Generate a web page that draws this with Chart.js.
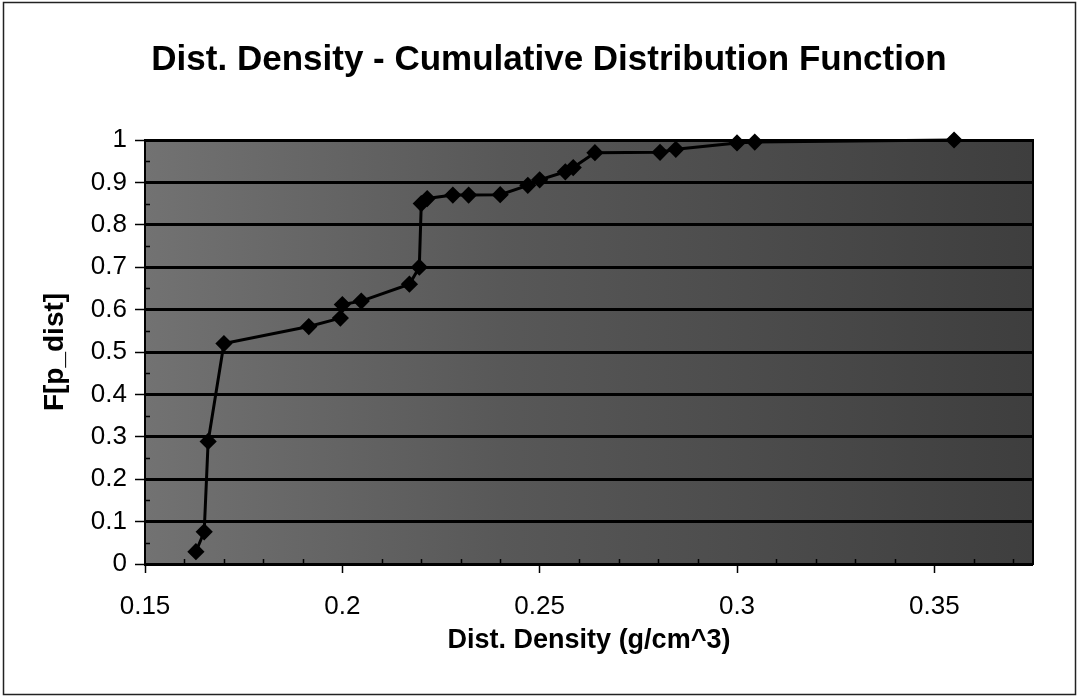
<!DOCTYPE html>
<html>
<head>
<meta charset="utf-8">
<style>
  html, body { margin: 0; padding: 0; background: #ffffff; }
  canvas { display: block; }
</style>
<script src="https://cdn.jsdelivr.net/npm/chart.js@4/dist/chart.umd.min.js"></script>
</head>
<body>
<canvas id="cdf" width="1079" height="698"></canvas>
<script>
// Sample densities (g/cm^3) and their cumulative probabilities
const density = [0.1629, 0.1650, 0.1660, 0.1700, 0.1915, 0.1995, 0.2000, 0.2048, 0.2170, 0.2195,
                 0.2200, 0.2215, 0.2280, 0.2320, 0.2400, 0.2470, 0.2500, 0.2565, 0.2585, 0.2640,
                 0.2805, 0.2845, 0.3000, 0.3045, 0.3550];
const cdf     = [0.029, 0.076, 0.289, 0.520, 0.560, 0.580, 0.612, 0.620, 0.660, 0.700,
                 0.850, 0.862, 0.870, 0.870, 0.871, 0.893, 0.906, 0.925, 0.935, 0.970,
                 0.971, 0.978, 0.993, 0.995, 1.000];

// Axis ticks
const xTicks      = [0.15, 0.2, 0.25, 0.3, 0.35];
const xTickLabels = ['0.15', '0.2', '0.25', '0.3', '0.35'];
const xMinorTicks = [0.16, 0.17, 0.18, 0.19, 0.21, 0.22, 0.23, 0.24, 0.26, 0.27, 0.28, 0.29,
                     0.31, 0.32, 0.33, 0.34, 0.36, 0.37];
const yTicks      = [0, 0.1, 0.2, 0.3, 0.4, 0.5, 0.6, 0.7, 0.8, 0.9, 1];
const yTickLabels = ['0', '0.1', '0.2', '0.3', '0.4', '0.5', '0.6', '0.7', '0.8', '0.9', '1'];
const yMinorTicks = [0.05, 0.15, 0.25, 0.35, 0.45, 0.55, 0.65, 0.75, 0.85, 0.95];

const TITLE = 'Dist. Density - Cumulative Distribution Function';
const FONT = "'Liberation Sans', Arial, Helvetica, sans-serif";
const W = 1079, H = 698;
const AREA = { left: 145, right: 1033, top: 140, bottom: 564 };

// Grey plot-area fill, minor tick marks, chart title and the outer frame
const decor = {
  id: 'decor',
  beforeDraw(chart) {
    const { ctx, chartArea: a } = chart;
    ctx.save();
    const g = ctx.createLinearGradient(a.left, 0, a.right, 0);
    g.addColorStop(0, '#727272');
    g.addColorStop(0.4, '#585858');
    g.addColorStop(1, '#3e3e3e');
    ctx.fillStyle = g;
    ctx.fillRect(a.left, a.top, a.right - a.left, a.bottom - a.top);
    ctx.restore();
  },
  afterDraw(chart) {
    const { ctx, chartArea: a, scales } = chart;
    ctx.save();
    ctx.strokeStyle = '#000';
    ctx.lineWidth = 1.5;
    ctx.beginPath();
    xMinorTicks.forEach(v => {
      const x = Math.round(scales.x.getPixelForValue(v)) + 0.5;
      ctx.moveTo(x, a.bottom);
      ctx.lineTo(x, a.bottom - 5);
    });
    yMinorTicks.forEach(v => {
      const y = Math.round(scales.y.getPixelForValue(v)) + 0.5;
      ctx.moveTo(a.left, y);
      ctx.lineTo(a.left + 5, y);
    });
    ctx.stroke();
    // plot-area frame
    ctx.lineWidth = 2;
    ctx.strokeRect(a.left, a.top, a.right - a.left, a.bottom - a.top);
    // chart title
    ctx.fillStyle = '#000';
    ctx.font = 'bold 35px ' + FONT;
    ctx.textAlign = 'center';
    ctx.textBaseline = 'middle';
    ctx.fillText(TITLE, 549, 60);
    // chart frame
    ctx.lineWidth = 1.5;
    ctx.strokeStyle = '#222';
    ctx.strokeRect(3.5, 2.5, W - 7, H - 6);
    ctx.restore();
  }
};

new Chart(document.getElementById('cdf'), {
  type: 'line',
  data: {
    datasets: [{
      data: density.map((d, i) => ({ x: d, y: cdf[i] })),
      borderColor: '#000',
      backgroundColor: '#000',
      borderWidth: 3,
      pointStyle: 'rectRot',
      pointRadius: 6.5,
      pointHoverRadius: 6.5,
      tension: 0,
      clip: false
    }]
  },
  options: {
    responsive: false,
    animation: false,
    events: [],
    layout: { padding: { left: 0, right: W - AREA.right, top: AREA.top, bottom: 0 } },
    plugins: {
      legend: { display: false },
      tooltip: { enabled: false },
      title: { display: false }
    },
    scales: {
      x: {
        type: 'linear',
        min: 0.15,
        max: 0.375,
        afterBuildTicks: s => { s.ticks = xTicks.map(v => ({ value: v })); },
        afterFit: s => { s.height = H - AREA.bottom; },
        ticks: {
          color: '#000',
          padding: 18,
          maxRotation: 0,
          font: { family: FONT, size: 26 },
          callback: (v, i) => xTickLabels[i]
        },
        grid: { drawOnChartArea: false, drawTicks: true, tickLength: 9, tickWidth: 1.5, tickColor: '#000' },
        border: { display: true, color: '#000', width: 2 },
        title: {
          display: true,
          text: 'Dist. Density (g/cm^3)',
          color: '#000',
          font: { family: FONT, size: 27, weight: 'bold' },
          padding: { top: 0, bottom: 41 }
        }
      },
      y: {
        type: 'linear',
        min: 0,
        max: 1,
        afterBuildTicks: s => { s.ticks = yTicks.map(v => ({ value: v })); },
        afterFit: s => { s.width = AREA.left; },
        ticks: {
          color: '#000',
          padding: 8,
          font: { family: FONT, size: 26 },
          callback: (v, i) => yTickLabels[i]
        },
        grid: { color: '#000', lineWidth: 3, drawTicks: true, tickLength: 10, tickWidth: 1.5, tickColor: '#000' },
        border: { display: true, color: '#000', width: 2 },
        title: {
          display: true,
          text: 'F[p_dist]',
          color: '#000',
          font: { family: FONT, size: 28, weight: 'bold' },
          padding: { top: 38, bottom: 0 }
        }
      }
    }
  },
  plugins: [decor]
});
</script>
</body>
</html>
